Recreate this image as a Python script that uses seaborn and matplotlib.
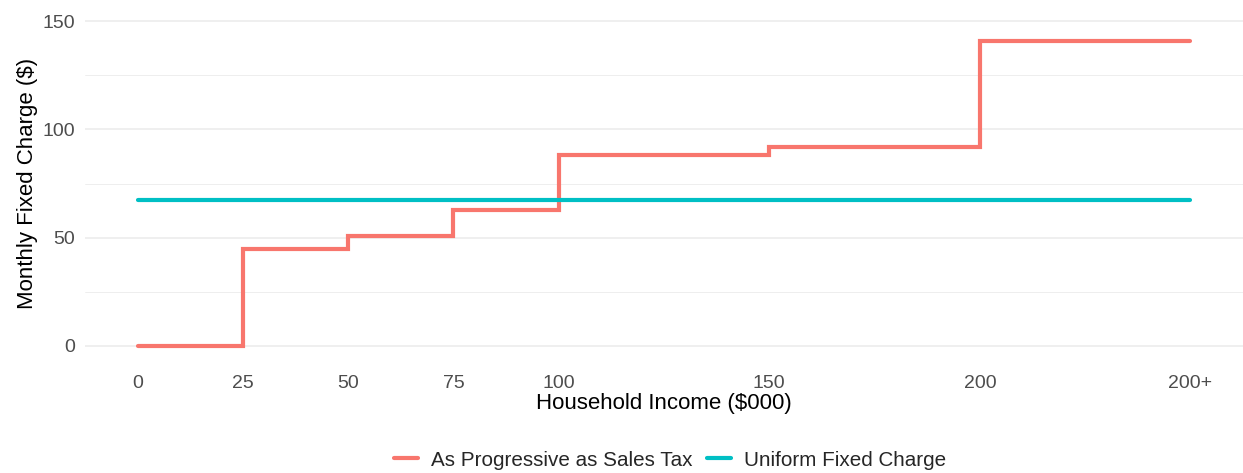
import matplotlib
matplotlib.use("Agg")
import matplotlib.pyplot as plt
import seaborn as sns
import pandas as pd
from matplotlib.ticker import MultipleLocator
from matplotlib.lines import Line2D

# Data
income_pos = [0, 25, 50, 75, 100, 150, 200, 250]
income_labels = ["0", "25", "50", "75", "100", "150", "200", "200+"]
progressive = [0, 45, 51, 63, 88, 92, 141, 141]
uniform_x = [0, 250]
uniform = [67.5, 67.5]
series_names = ["As Progressive as Sales Tax", "Uniform Fixed Charge"]
colors = ["#F8766D", "#00BFC4"]

df = pd.concat([
    pd.DataFrame({"x": income_pos, "y": progressive, "series": series_names[0]}),
    pd.DataFrame({"x": uniform_x, "y": uniform, "series": series_names[1]}),
], ignore_index=True)

sns.set_theme(style="white")
plt.rcParams["font.family"] = ["Liberation Sans", "DejaVu Sans"]

fig = plt.figure(figsize=(12.43, 4.73), dpi=100)
ax = fig.add_axes([85 / 1243, 1 - 362.25 / 473, (1243 - 85) / 1243, (362.25 - 4.75) / 473])

sns.lineplot(data=df, x="x", y="y", hue="series", palette=dict(zip(series_names, colors)),
             drawstyle="steps-post", lw=3, ax=ax, legend=False, solid_joinstyle="miter")

ax.set_xlim(-12.5, 262.5)
ax.set_ylim(-7.5, 157.5)
ax.set_xticks(income_pos)
ax.set_xticklabels(income_labels)
ax.yaxis.set_major_locator(MultipleLocator(50))
ax.yaxis.set_minor_locator(MultipleLocator(25))
ax.grid(False)
ax.yaxis.grid(True, which="major", color="#EBEBEB", lw=1.1)
ax.yaxis.grid(True, which="minor", color="#EBEBEB", lw=0.6)
ax.set_axisbelow(True)
for s in ax.spines.values():
    s.set_visible(False)
ax.tick_params(axis="both", which="both", length=0, labelsize=14, colors="#4D4D4D")
ax.tick_params(axis="x", pad=9)
ax.tick_params(axis="y", pad=7)
ax.set_xlabel("Household Income ($000)", fontsize=16, color="black", labelpad=1)
ax.set_ylabel("Monthly Fixed Charge ($)", fontsize=16, color="black", labelpad=3)

handles = [Line2D([0], [0], color=c, lw=3) for c in colors]
fig.legend(handles, series_names, loc="center", bbox_to_anchor=(670 / 1243, 1 - 460 / 473), ncol=2,
           frameon=False, fontsize=14.9, handlelength=1.16, columnspacing=0.68, handletextpad=0.63)

fig.savefig("out.png", dpi=100)
